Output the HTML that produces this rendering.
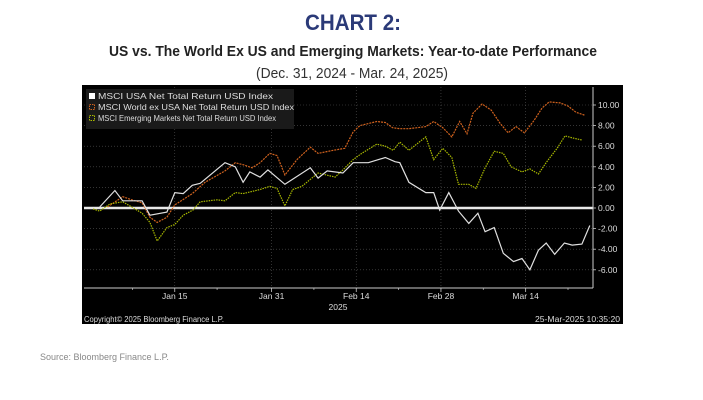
<!DOCTYPE html>
<html><head><meta charset="utf-8"><style>
body{margin:0;background:#fff;}
svg{display:block;font-family:"Liberation Sans",sans-serif;}
</style></head><body>
<svg id="c" width="703" height="400">
<text x="353" y="30" text-anchor="middle" font-size="22" font-weight="bold" fill="#2b3a78" textLength="96" lengthAdjust="spacingAndGlyphs">CHART 2:</text>
<text x="353" y="56" text-anchor="middle" font-size="15" font-weight="bold" fill="#222" textLength="488" lengthAdjust="spacingAndGlyphs">US vs. The World Ex US and Emerging Markets: Year-to-date Performance</text>
<text x="352" y="78" text-anchor="middle" font-size="15" fill="#333" textLength="192" lengthAdjust="spacingAndGlyphs">(Dec. 31, 2024 - Mar. 24, 2025)</text>
<rect x="82" y="85" width="541" height="239" fill="#000"/>
<g id="grid"></g>
<g id="plot"></g>
<g id="axes"></g>
<rect x="86" y="89" width="208" height="40" fill="#1a1a1a"/>
<g font-size="8.5" fill="#ddd">
<rect x="89" y="93" width="6" height="6" fill="#fff"/>
<text x="98" y="99" textLength="175" lengthAdjust="spacingAndGlyphs">MSCI USA Net Total Return USD Index</text>
<rect x="89.5" y="104.5" width="5" height="5" fill="none" stroke="#d0621e" stroke-dasharray="1.5,1"/>
<text x="98" y="110" textLength="196" lengthAdjust="spacingAndGlyphs">MSCI World ex USA Net Total Return USD Index</text>
<rect x="89.5" y="115.5" width="5" height="5" fill="none" stroke="#a8b800" stroke-dasharray="1.5,1"/>
<text x="98" y="121" textLength="178" lengthAdjust="spacingAndGlyphs">MSCI Emerging Markets Net Total Return USD Index</text>
</g>
<text x="338" y="310" text-anchor="middle" font-size="8.5" fill="#ddd">2025</text>
<text x="84" y="322" font-size="8" fill="#ddd" textLength="140" lengthAdjust="spacingAndGlyphs">Copyright© 2025 Bloomberg Finance L.P.</text>
<text x="620" y="322" text-anchor="end" font-size="8" fill="#ddd" textLength="85" lengthAdjust="spacingAndGlyphs">25-Mar-2025 10:35:20</text>
<text x="40" y="360" font-size="9" fill="#888">Source: Bloomberg Finance L.P.</text>
</svg>
<script>
const usaDays=[2.6,5.1,6.4,9.6,10.9,13.7,15.0,16.4,17.9,19.2,23.3,25.0,26.3,27.4,29.1,30.4,33.2,37.4,38.7,40.2,42.8,44.5,47.0,49.8,51.4,52.2,53.7,56.5,57.8,58.8,60.3,61.9,63.6,65.1,66.3,67.8,69.3,71.0,72.4,73.7,75.1,76.4,77.8,79.4,80.7,82.3,83.6,84.9,86.4];
const usaVals=[0.1,1.7,0.7,0.7,-0.7,-0.4,1.5,1.4,2.2,2.4,4.4,4.0,2.5,3.5,3.0,3.7,2.3,3.9,2.9,3.6,3.4,4.4,4.4,4.9,4.5,4.4,2.5,1.5,1.5,-0.2,1.5,-0.3,-1.5,-0.5,-2.3,-1.9,-4.4,-5.2,-4.9,-6.0,-4.1,-3.4,-4.5,-3.4,-3.6,-3.5,-1.7];
const worldDays=[3.9,6.4,7.9,9.6,10.9,12.1,13.7,15.0,17.9,20.0,23.3,25.0,26.3,27.8,29.1,30.7,31.9,33.2,35.2,37.4,38.7,41.2,43.1,44.5,45.6,48.4,49.8,51.0,52.2,53.7,56.5,57.8,59.3,60.8,62.1,63.3,64.3,65.8,67.3,68.8,70.1,71.4,72.8,74.4,75.7,76.9,78.7,80.0,81.3,82.8];
const worldVals=[0.1,1.1,0.8,0.5,-0.9,-1.4,-0.9,0.3,1.4,2.5,3.6,4.4,4.2,3.9,4.4,5.3,5.1,3.2,4.7,5.9,5.3,5.6,5.8,7.4,8.0,8.4,8.3,7.8,7.7,7.7,7.9,8.4,7.8,6.9,8.4,7.2,9.2,10.1,9.5,8.2,7.3,7.9,7.3,8.5,9.7,10.3,10.2,9.9,9.3,9.0];
const emDays=[1.5,2.6,4.3,6.4,7.9,9.6,10.9,12.1,13.7,15.0,16.4,18.0,19.2,22.0,23.3,25.0,26.3,29.1,30.7,31.9,33.2,34.5,36.0,38.7,41.5,42.8,44.5,45.9,48.4,49.8,51.1,52.2,53.7,56.5,57.8,59.3,60.8,61.9,63.6,64.8,66.3,67.8,69.3,70.6,72.4,73.7,75.1,76.5,78.2,79.5,80.8,82.3];
const emVals=[-0.1,-0.3,0.4,0.6,0.1,-0.5,-1.4,-3.2,-1.9,-1.6,-0.7,-0.2,0.6,0.8,0.7,1.5,1.4,1.8,2.1,1.9,0.2,1.8,2.1,3.4,3.0,3.7,4.7,5.3,6.2,6.0,5.6,6.4,5.6,6.9,4.7,5.8,4.9,2.3,2.3,1.9,3.9,5.5,5.3,4.0,3.5,3.8,3.3,4.5,5.8,7.0,6.8,6.6,5.8,6.2];
const yTicks=[10,8,6,4,2,0,-2,-4,-6];
const yTickLabels=["10.00","8.00","6.00","4.00","2.00","0.00","-2.00","-4.00","-6.00"];
const xTickDays=[15,31,45,59,73];
const xTickLabels=["Jan 15","Jan 31","Feb 14","Feb 28","Mar 14"];
const minorDays=[8,22,38,52,66,80];

const NS='http://www.w3.org/2000/svg';
const X=d=>84+d*6.05, Y=v=>208-v*10.3;
function mk(tag,parent,attrs){const e=document.createElementNS(NS,tag);for(const k in attrs)e.setAttribute(k,attrs[k]);document.getElementById(parent).appendChild(e);return e;}
const L=84,R=593,T=87,B=288;
yTicks.forEach((v,i)=>{
  if(v!==0){const g=mk('line','grid',{x1:L,x2:R,y1:Y(v),y2:Y(v),stroke:'#555','stroke-width':0.6,'stroke-dasharray':'1,2'});
  
  }
  const t=mk('line','axes',{x1:R,x2:R+3,y1:Y(v),y2:Y(v),stroke:'#ccc','stroke-width':0.8});
  
  
  const tx=mk('text','axes',{x:R+5,y:Y(v)+3,'font-size':8.5,fill:'#ddd'});
  tx.textContent=yTickLabels[i];
  
  
});
xTickDays.forEach((d,i)=>{
  const g=mk('line','grid',{x1:X(d),x2:X(d),y1:T,y2:B,stroke:'#555','stroke-width':0.6,'stroke-dasharray':'1,2'});
  
  
  const tx=mk('text','axes',{x:X(d),y:299,'font-size':8.5,fill:'#ddd','text-anchor':'middle'});
  tx.textContent=xTickLabels[i];
  
  
  const tk=mk('line','axes',{x1:X(d),x2:X(d),y1:B,y2:B+4,stroke:'#ccc','stroke-width':0.8});
  
  
});
minorDays.forEach(d=>{
  const tk=mk('line','axes',{x1:X(d),x2:X(d),y1:B,y2:B+2,stroke:'#aaa','stroke-width':0.8});
  
  
});
const ax=mk('line','axes',{x1:L,x2:R,y1:B,y2:B,stroke:'#ccc','stroke-width':1});


const ay=mk('line','axes',{x1:R,x2:R,y1:T,y2:B,stroke:'#ccc','stroke-width':1});


const z=mk('line','plot',{x1:L,x2:R,y1:Y(0),y2:Y(0),stroke:'#e8e8e8','stroke-width':2.5});


function series(days,vals,color,dash,name){
  const n=Math.min(days.length,vals.length);
  let d='';for(let i=0;i<n;i++)d+=(i?'L':'M')+X(days[i]).toFixed(1)+','+Y(vals[i]).toFixed(1);
  const p=mk('path','plot',{d:d,fill:'none',stroke:color,'stroke-width':1.2});
  if(dash)p.setAttribute('stroke-dasharray',dash);
  
  
}
series(worldDays,worldVals,'#d0621e','2,1','line-world-ex-usa');
series(emDays,emVals,'#a8b800','1.5,1','line-emerging-markets');
series(usaDays,usaVals,'#e0e0e0',null,'line-usa');
</script>
</body></html>
